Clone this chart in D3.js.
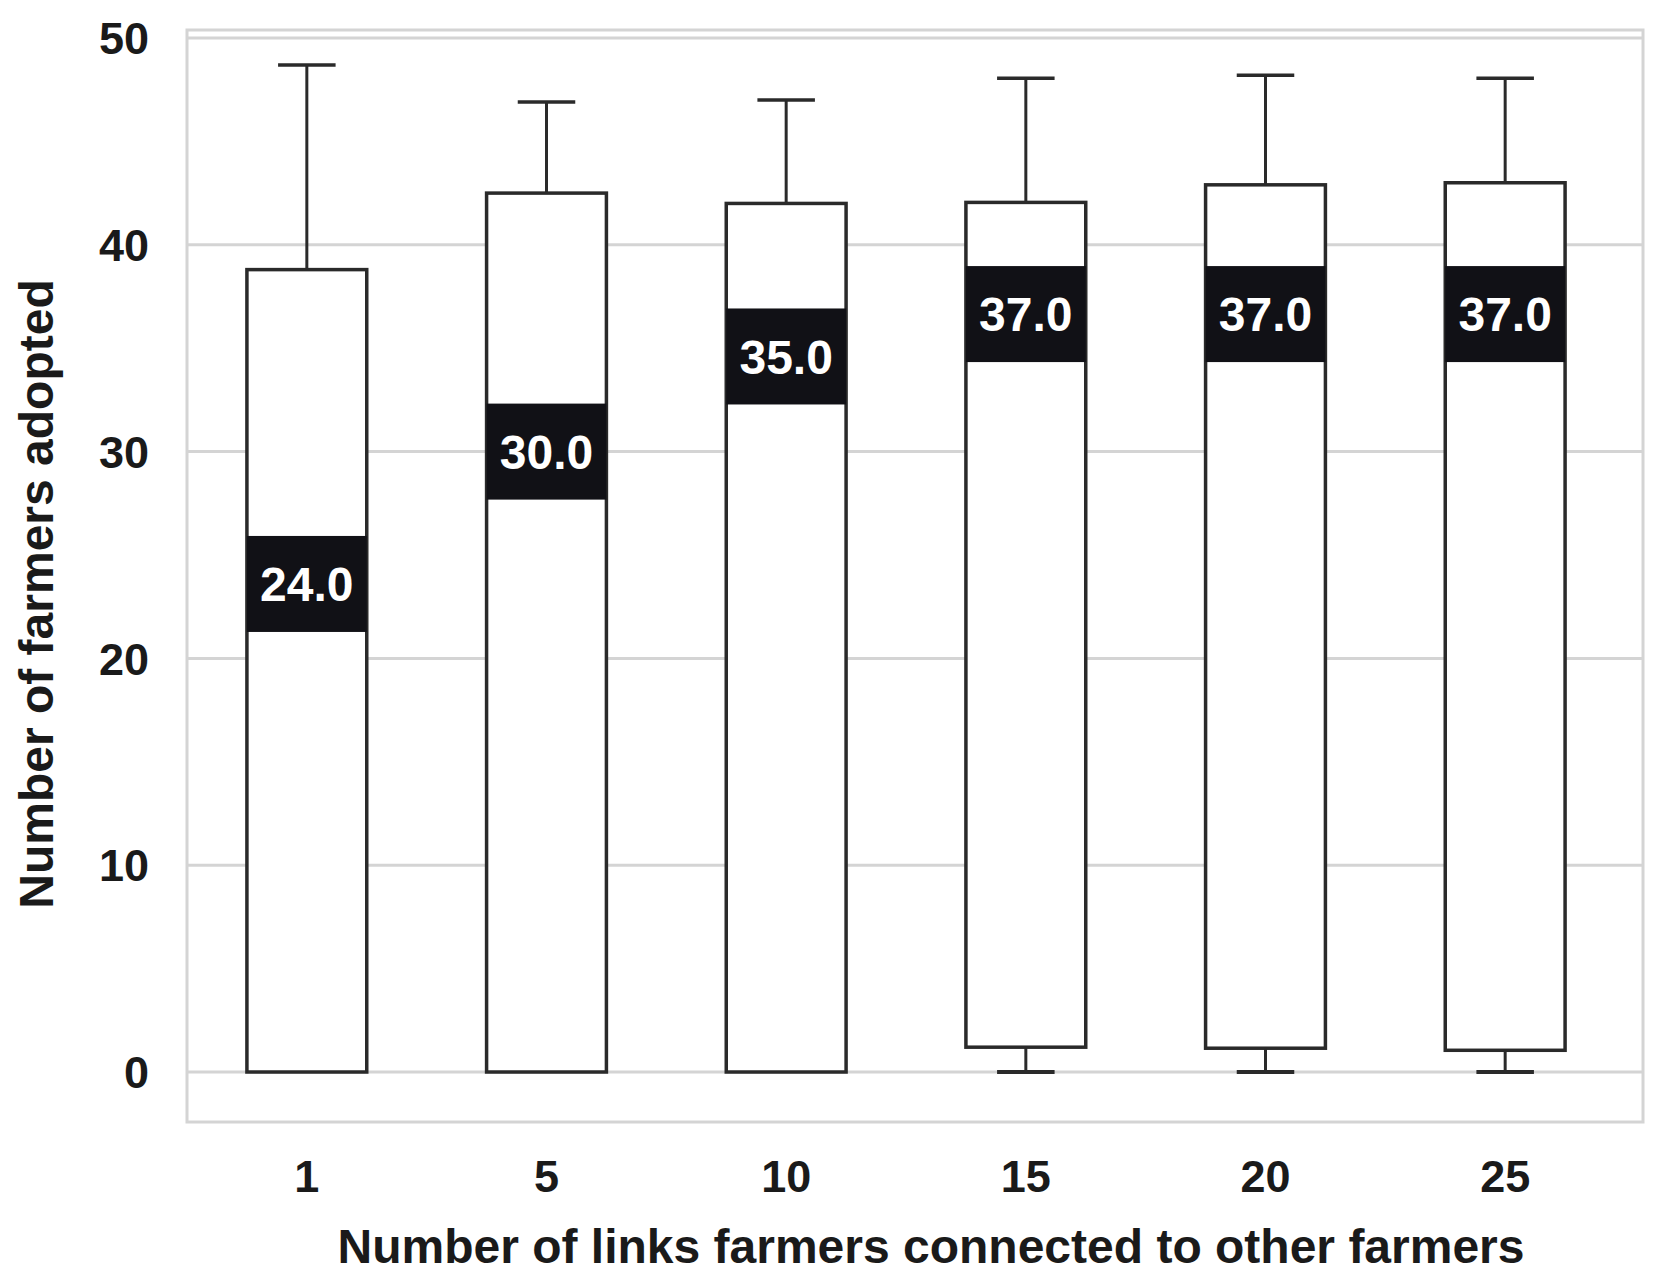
<!DOCTYPE html>
<meta charset="utf-8">
<style>
body { margin: 0; background: #fff; }
text { font-family: "Liberation Sans", Arial, sans-serif; font-weight: bold; }
</style>
<body>
<script src="https://d3js.org/d3.v7.min.js"></script>
<script>
// data
var categories = ["1", "5", "10", "15", "20", "25"];
var whiskerLow = [0, 0, 0, 0, 0, 0];
var boxLow = [0, 0, 0, 1.2, 1.15, 1.05];
var medians = [24, 30, 35, 37, 37, 37];
var bandMid = [23.6, 30.0, 34.6, 36.65, 36.65, 36.65]; // centre of the dark label band
var boxHigh = [38.8, 42.5, 42.0, 42.05, 42.9, 43.0];
var whiskerHigh = [48.7, 46.9, 47.0, 48.05, 48.2, 48.05];
var yTicks = [0, 10, 20, 30, 40, 50];

var W = 1664, H = 1285;
var frame = {left: 187, right: 1643, top: 30, bottom: 1122};

var svg = d3.select("body").append("svg")
    .attr("width", W)
    .attr("height", H);

var x = d3.scaleBand().domain(categories).range([187, 1625]);
var y = d3.scaleLinear().domain([0, 50]).range([1072, 38]);

var boxW = x.bandwidth() * 0.5,
    capW = boxW * 0.48,
    bandH = 96;

// frame
svg.append("rect")
    .attr("x", frame.left).attr("y", frame.top)
    .attr("width", frame.right - frame.left)
    .attr("height", frame.bottom - frame.top)
    .attr("fill", "none")
    .attr("stroke", "#d4d4d4")
    .attr("stroke-width", 3);

// gridlines
svg.append("g").selectAll("line")
    .data(yTicks).enter().append("line")
    .attr("x1", frame.left).attr("x2", frame.right)
    .attr("y1", function(d) { return y(d); })
    .attr("y2", function(d) { return y(d); })
    .attr("stroke", "#d4d4d4")
    .attr("stroke-width", 3);

// y tick labels
svg.append("g").selectAll("text")
    .data(yTicks).enter().append("text")
    .attr("x", 149)
    .attr("y", function(d) { return y(d); })
    .attr("dy", "0.36em")
    .attr("text-anchor", "end")
    .style("font-size", "45px")
    .attr("fill", "#1a1a1a")
    .text(function(d) { return d; });

// x tick labels
svg.append("g").selectAll("text")
    .data(categories).enter().append("text")
    .attr("x", function(d) { return x(d) + x.bandwidth() / 2; })
    .attr("y", 1176)
    .attr("dy", "0.36em")
    .attr("text-anchor", "middle")
    .style("font-size", "45px")
    .attr("fill", "#1a1a1a")
    .text(function(d) { return d; });

// axis titles
svg.append("text")
    .attr("x", 931).attr("y", 1246)
    .attr("dy", "0.36em")
    .attr("text-anchor", "middle")
    .style("font-size", "48px")
    .attr("fill", "#1a1a1a")
    .text("Number of links farmers connected to other farmers");

svg.append("text")
    .attr("transform", "translate(36,594) rotate(-90)")
    .attr("dy", "0.36em")
    .attr("text-anchor", "middle")
    .style("font-size", "48px")
    .attr("fill", "#1a1a1a")
    .text("Number of farmers adopted");

// boxes
var g = svg.append("g").selectAll("g")
    .data(categories).enter().append("g");

var stroke = "#2a2a2a";

g.each(function(c, i) {
  var s = d3.select(this);
  var cx = x(c) + x.bandwidth() / 2;
  // upper whisker
  s.append("line")
      .attr("x1", cx).attr("x2", cx)
      .attr("y1", y(boxHigh[i])).attr("y2", y(whiskerHigh[i]))
      .attr("stroke", stroke).attr("stroke-width", 3);
  s.append("line")
      .attr("x1", cx - capW / 2).attr("x2", cx + capW / 2)
      .attr("y1", y(whiskerHigh[i])).attr("y2", y(whiskerHigh[i]))
      .attr("stroke", stroke).attr("stroke-width", 3.5);
  // lower whisker
  if (boxLow[i] > whiskerLow[i]) {
    s.append("line")
        .attr("x1", cx).attr("x2", cx)
        .attr("y1", y(boxLow[i])).attr("y2", y(whiskerLow[i]))
        .attr("stroke", stroke).attr("stroke-width", 3);
    s.append("line")
        .attr("x1", cx - capW / 2).attr("x2", cx + capW / 2)
        .attr("y1", y(whiskerLow[i])).attr("y2", y(whiskerLow[i]))
        .attr("stroke", stroke).attr("stroke-width", 4);
  }
  // box
  s.append("rect")
      .attr("x", cx - boxW / 2).attr("y", y(boxHigh[i]))
      .attr("width", boxW)
      .attr("height", y(boxLow[i]) - y(boxHigh[i]))
      .attr("fill", "#fff")
      .attr("stroke", stroke).attr("stroke-width", 3.5);
  // median band with label
  s.append("rect")
      .attr("x", cx - boxW / 2).attr("y", y(bandMid[i]) - bandH / 2)
      .attr("width", boxW).attr("height", bandH)
      .attr("fill", "#111116");
  s.append("text")
      .attr("x", cx).attr("y", y(bandMid[i]))
      .attr("dy", "0.36em")
      .attr("text-anchor", "middle")
      .style("font-size", "48px")
      .attr("fill", "#fff")
      .text(medians[i].toFixed(1));
});
</script>
</body>
